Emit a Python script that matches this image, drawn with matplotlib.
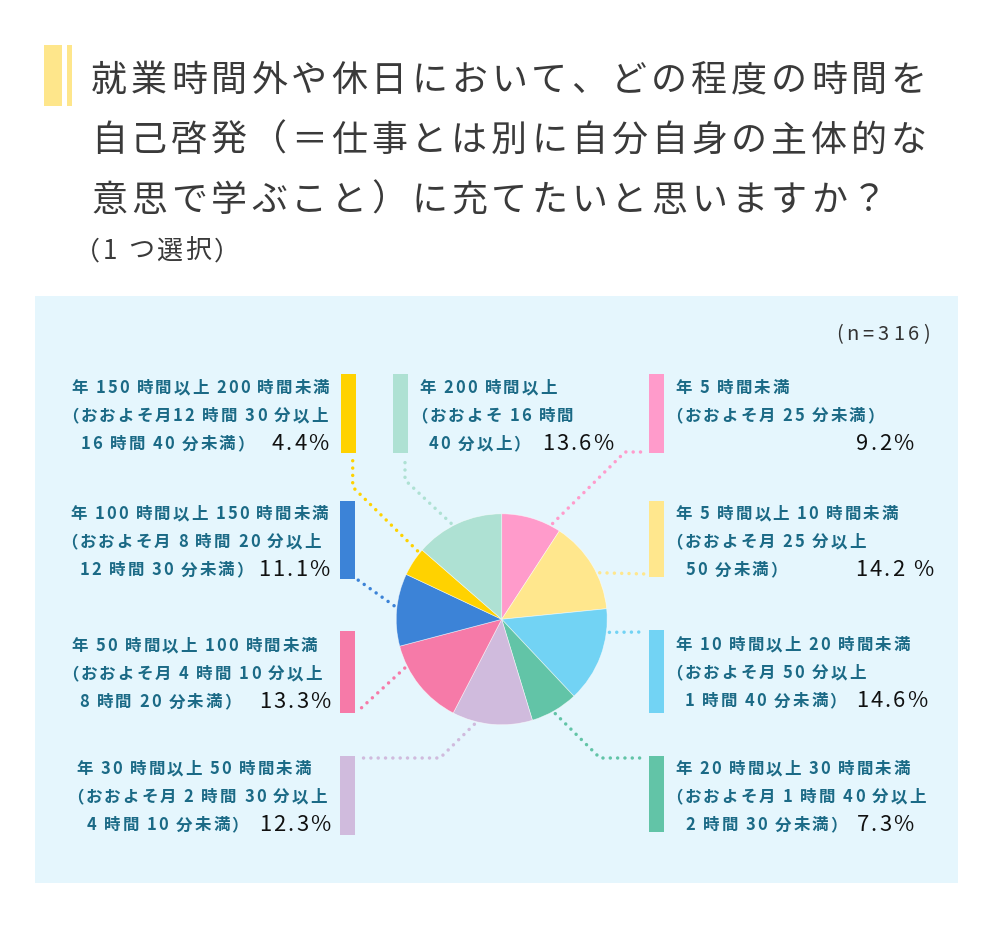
import matplotlib
matplotlib.use("Agg")
import matplotlib.pyplot as plt
from matplotlib.patches import Rectangle
from matplotlib import font_manager as fm
from matplotlib.font_manager import FontProperties
from matplotlib import ft2font
import numpy as np

# ---------------- data ----------------
title_lines = [
    "就業時間外や休日において、どの程度の時間を",
    "自己啓発（＝仕事とは別に自分自身の主体的な",
    "意思で学ぶこと）に充てたいと思いますか？",
]
subtitle = "（1 つ選択）"
sample_note = "(n=316)"

label_line1 = [
    "年 5 時間未満",
    "年 5 時間以上 10 時間未満",
    "年 10 時間以上 20 時間未満",
    "年 20 時間以上 30 時間未満",
    "年 30 時間以上 50 時間未満",
    "年 50 時間以上 100 時間未満",
    "年 100 時間以上 150 時間未満",
    "年 150 時間以上 200 時間未満",
    "年 200 時間以上",
]
label_line2 = [
    "（おおよそ月 25 分未満）",
    "（おおよそ月 25 分以上",
    "（おおよそ月 50 分以上",
    "（おおよそ月 1 時間 40 分以上",
    "（おおよそ月 2 時間 30 分以上",
    "（おおよそ月 4 時間 10 分以上",
    "（おおよそ月 8 時間 20 分以上",
    "（おおよそ月12 時間 30 分以上",
    "（おおよそ 16 時間",
]
label_line3 = [
    "",
    "50 分未満）",
    "1 時間 40 分未満）",
    "2 時間 30 分未満）",
    "4 時間 10 分未満）",
    "8 時間 20 分未満）",
    "12 時間 30 分未満）",
    "16 時間 40 分未満）",
    "40 分以上）",
]
values = [9.2, 14.2, 14.6, 7.3, 12.3, 13.3, 11.1, 4.4, 13.6]
pct_labels = ["9.2%", "14.2 %", "14.6%", "7.3%", "12.3%", "13.3%", "11.1%", "4.4%", "13.6%"]
colors = ["#ff9bcb", "#ffe78d", "#72d3f4", "#62c4a7", "#d0bbdd",
          "#f67aa8", "#3c83d7", "#ffd200", "#aee1d3"]

# ---------------- layout (pixel space) ----------------
W, H = 1000, 941
FAM = ["Noto Sans CJK JP", "DejaVu Sans"]
TEXT_TEAL = "#1b6a86"
TITLE_COL = "#3a3a3a"

pie_cx, pie_cy, pie_r = 501.7, 619.3, 105.5

# label block layout: (x line1 ink-left, x line2, x line3, pct right, baseline line1)
label_pos = [
    (676, 677, 686, 913, 393),
    (676, 677, 686, 933, 519),
    (676, 677, 686, 927, 650),
    (676, 677, 686, 913, 774),
    (77, 78, 87, 330, 774),
    (72, 73, 80, 330, 651),
    (71, 72, 81, 329, 519),
    (72, 73, 82, 328, 393),
    (420, 422, 429, 613, 393),
]
LINE_GAP = 28.2
# colour bars: (x, y0, y1)
bar_pos = [
    (649, 374, 453), (649, 501, 577), (649, 630, 713), (649, 756, 832),
    (340, 756, 835), (340, 631, 713), (340, 501, 579), (341, 374, 453),
    (393, 374, 453),
]
# leader lines: start angle (deg clockwise from top) then waypoints
leaders = [
    (28.0, [(625, 452), (646, 452)]),
    (64.6, [(646, 574)]),
    (96.9, [(646, 632)]),
    (150.4, [(600, 758), (646, 758)]),
    (194.6, [(440, 758), (358, 758)]),
    (243.3, [(358, 711)]),
    (277.2, [(358, 580)]),
    (309.1, [(352.7, 487), (352.7, 457)]),
    (332.2, [(405, 480), (405, 457)]),
]

# ---------------- helpers ----------------
try:
    NO_SCALE = ft2font.LoadFlags.NO_SCALE
except AttributeError:
    NO_SCALE = ft2font.LOAD_NO_SCALE

_fonts = {}


def metric_font(weight):
    if weight not in _fonts:
        path = fm.findfont(FontProperties(family="Noto Sans CJK JP", weight=weight))
        try:
            _fonts[weight] = ft2font.FT2Font(path, hinting_factor=1)
        except TypeError:
            _fonts[weight] = ft2font.FT2Font(path, 1)
    return _fonts[weight]


fig = plt.figure(figsize=(W / 100, H / 100), dpi=100)
ax = fig.add_axes([0, 0, 1, 1])
ax.set_xlim(0, W)
ax.set_ylim(H, 0)
ax.axis("off")


def spaced_text(x, y, s, size_px, spacing_px, color, weight="normal", align="left"):
    font = metric_font(weight)
    upem = font.units_per_EM
    items = []
    pen = 0.0
    for ch in s:
        g = font.load_char(ord(ch), flags=NO_SCALE)
        adv = g.horiAdvance / upem * size_px
        bx = g.horiBearingX / upem * size_px
        w = g.width / upem * size_px
        items.append((ch, pen, bx, w))
        pen += adv + spacing_px
    ink = [(p + bx, p + bx + w) for ch, p, bx, w in items if ch.strip()]
    if align == "left":
        shift = x - ink[0][0]
    elif align == "origin":
        shift = x
    else:
        shift = x - ink[-1][1]
    for ch, p, bx, w in items:
        if not ch.strip():
            continue
        ax.text(p + shift, y, ch, ha="left", va="baseline",
                fontsize=size_px * 0.72, color=color, fontweight=weight,
                family=FAM)


# ---------------- title ----------------
ax.add_patch(Rectangle((44, 45), 17.5, 61, color="#fee68b", lw=0))
ax.add_patch(Rectangle((67.3, 45), 4.4, 61, color="#fee68b", lw=0))
title_base = [91, 151, 211]
for line, yb in zip(title_lines, title_base):
    spaced_text(91, yb, line, 36, 4, TITLE_COL, "normal", align="origin")
spaced_text(92, 259, subtitle, 26, 2.6, TITLE_COL, "normal", align="left")

# ---------------- panel ----------------
ax.add_patch(Rectangle((35, 296), 923, 587, color="#e5f6fd", lw=0, zorder=0))
spaced_text(928, 340, sample_note, 20, 4, "#333333", "normal", align="right")

# ---------------- leader lines ----------------
for (ang, pts), c in zip(leaders, colors):
    a = np.deg2rad(ang)
    r = pie_r + 3
    sx = pie_cx + r * np.sin(a)
    sy = pie_cy - r * np.cos(a)
    xs = [sx] + [p[0] for p in pts]
    ys = [sy] + [p[1] for p in pts]
    ax.plot(xs, ys, color=c, lw=2.5, linestyle=(0, (0.01, 2.1)),
            dash_capstyle="round", solid_capstyle="round", zorder=2)

# ---------------- colour bars ----------------
for (bx, y0, y1), c in zip(bar_pos, colors):
    ax.add_patch(Rectangle((bx, y0), 15, y1 - y0, color=c, lw=0, zorder=3))

# ---------------- labels ----------------
for i in range(len(values)):
    x1, x2, x3, xr, yb = label_pos[i]
    spaced_text(x1, yb, label_line1[i], 16.5, 2.0, TEXT_TEAL, "bold")
    spaced_text(x2, yb + LINE_GAP, label_line2[i], 16.5, 2.0, TEXT_TEAL, "bold")
    if label_line3[i]:
        spaced_text(x3, yb + 2 * LINE_GAP, label_line3[i], 16.5, 2.0, TEXT_TEAL, "bold")
    spaced_text(xr, yb + 2 * LINE_GAP + 0.8, pct_labels[i], 22, 2.2, "#111111",
                "normal", align="right")

# ---------------- pie ----------------
pax = fig.add_axes([(pie_cx - pie_r) / W, 1 - (pie_cy + pie_r) / H,
                    2 * pie_r / W, 2 * pie_r / H])
pax.pie(values, colors=colors, startangle=90, counterclock=False, radius=1,
        wedgeprops=dict(linewidth=0.5, edgecolor=(1, 1, 1, 0.6)))
pax.set_xlim(-1, 1)
pax.set_ylim(-1, 1)
pax.axis("off")
pax.patch.set_alpha(0)

fig.savefig("out.png", dpi=100, facecolor="white")
